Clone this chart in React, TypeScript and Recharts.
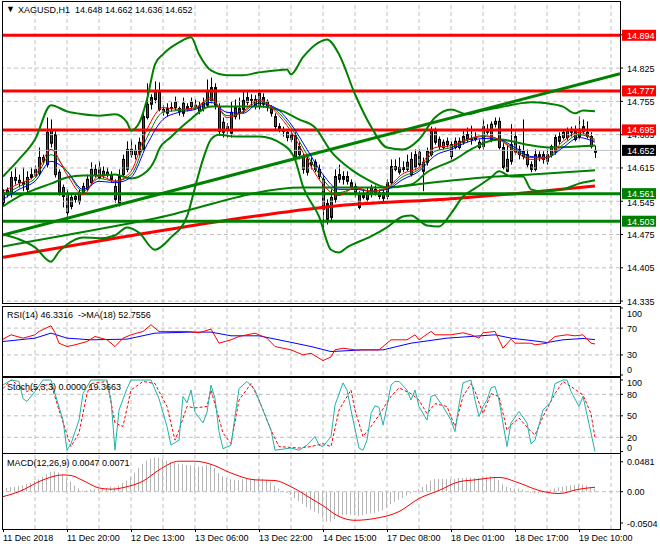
import React from 'react';
import { ComposedChart, Line, Bar, XAxis, YAxis, ReferenceLine } from 'recharts';

const FONT = '"Liberation Sans", Arial, sans-serif';

// ---------- time axis ----------
const xDomain: [number, number] = [0, 154.25];
const gridIdx = [8, 16, 24, 32, 40, 48, 56, 64, 72, 80, 88, 96, 104, 112, 120, 128, 136, 144, 152];
const xTickIdx = [0, 16, 32, 48, 64, 80, 96, 112, 128, 144];
const xTickLabels = ['11 Dec 2018', '11 Dec 20:00', '12 Dec 13:00', '13 Dec 06:00', '13 Dec 22:00', '14 Dec 15:00', '17 Dec 08:00', '18 Dec 01:00', '18 Dec 17:00', '19 Dec 10:00'];

// ---------- price candles ----------
const opens = [14.542,14.559,14.559,14.595,14.589,14.584,14.570,14.595,14.599,14.603,14.637,14.622,14.667,14.685,14.606,14.574,14.521,14.553,14.549,14.544,14.563,14.570,14.584,14.612,14.595,14.608,14.601,14.601,14.576,14.542,14.601,14.612,14.654,14.643,14.648,14.654,14.721,14.749,14.759,14.774,14.738,14.730,14.740,14.753,14.740,14.730,14.744,14.744,14.747,14.734,14.740,14.747,14.757,14.784,14.744,14.690,14.702,14.688,14.723,14.730,14.738,14.753,14.759,14.759,14.744,14.763,14.755,14.740,14.723,14.702,14.696,14.690,14.675,14.683,14.660,14.637,14.633,14.622,14.627,14.612,14.591,14.540,14.511,14.549,14.591,14.591,14.597,14.584,14.576,14.532,14.559,14.549,14.559,14.570,14.563,14.563,14.555,14.584,14.618,14.606,14.616,14.612,14.601,14.616,14.648,14.608,14.627,14.643,14.692,14.675,14.669,14.671,14.639,14.658,14.658,14.669,14.675,14.675,14.675,14.669,14.660,14.690,14.675,14.707,14.713,14.658,14.608,14.629,14.681,14.654,14.639,14.643,14.622,14.612,14.643,14.643,14.629,14.643,14.650,14.671,14.679,14.679,14.696,14.675,14.681,14.702,14.690,14.681,14.648];
const highs = [14.570,14.574,14.608,14.616,14.601,14.616,14.608,14.616,14.620,14.658,14.643,14.721,14.717,14.692,14.612,14.580,14.570,14.559,14.559,14.570,14.584,14.601,14.627,14.622,14.629,14.618,14.616,14.608,14.591,14.612,14.643,14.671,14.675,14.664,14.679,14.732,14.793,14.770,14.797,14.795,14.747,14.751,14.753,14.765,14.744,14.763,14.751,14.763,14.759,14.755,14.763,14.801,14.805,14.793,14.751,14.721,14.709,14.755,14.759,14.763,14.776,14.776,14.770,14.768,14.780,14.772,14.759,14.747,14.730,14.709,14.702,14.696,14.694,14.690,14.669,14.645,14.639,14.637,14.633,14.622,14.601,14.549,14.570,14.612,14.622,14.608,14.608,14.591,14.584,14.566,14.570,14.574,14.580,14.578,14.570,14.570,14.591,14.633,14.633,14.637,14.629,14.643,14.648,14.654,14.654,14.637,14.658,14.702,14.700,14.681,14.675,14.679,14.671,14.679,14.679,14.696,14.700,14.704,14.690,14.675,14.717,14.707,14.713,14.721,14.721,14.667,14.664,14.707,14.692,14.662,14.717,14.654,14.629,14.654,14.650,14.650,14.654,14.664,14.685,14.690,14.696,14.700,14.702,14.704,14.723,14.717,14.713,14.690,14.662];
const lows = [14.536,14.553,14.553,14.580,14.574,14.566,14.561,14.591,14.595,14.599,14.622,14.616,14.658,14.595,14.557,14.532,14.502,14.528,14.542,14.538,14.559,14.566,14.578,14.595,14.591,14.593,14.595,14.584,14.542,14.534,14.597,14.606,14.637,14.633,14.641,14.650,14.717,14.738,14.751,14.734,14.725,14.723,14.734,14.736,14.725,14.723,14.734,14.738,14.738,14.728,14.734,14.742,14.751,14.738,14.683,14.679,14.679,14.679,14.717,14.717,14.730,14.747,14.742,14.738,14.738,14.742,14.734,14.723,14.696,14.690,14.681,14.671,14.669,14.633,14.633,14.603,14.599,14.612,14.606,14.591,14.490,14.496,14.502,14.542,14.584,14.580,14.580,14.570,14.553,14.528,14.549,14.542,14.553,14.557,14.549,14.542,14.549,14.580,14.608,14.601,14.606,14.608,14.597,14.610,14.616,14.566,14.620,14.639,14.664,14.654,14.654,14.658,14.633,14.654,14.654,14.664,14.669,14.664,14.671,14.654,14.654,14.685,14.669,14.700,14.654,14.612,14.606,14.622,14.643,14.633,14.633,14.616,14.606,14.608,14.629,14.624,14.622,14.637,14.643,14.664,14.675,14.673,14.681,14.671,14.675,14.685,14.677,14.656,14.636];
const closes = [14.563,14.568,14.595,14.589,14.584,14.580,14.595,14.601,14.612,14.637,14.631,14.690,14.696,14.601,14.563,14.555,14.561,14.534,14.555,14.563,14.576,14.591,14.612,14.601,14.616,14.599,14.606,14.591,14.549,14.597,14.633,14.654,14.643,14.652,14.669,14.723,14.749,14.763,14.776,14.738,14.734,14.740,14.742,14.742,14.734,14.751,14.740,14.753,14.744,14.744,14.753,14.778,14.784,14.747,14.692,14.711,14.694,14.732,14.742,14.740,14.757,14.763,14.758,14.744,14.772,14.749,14.744,14.730,14.702,14.696,14.692,14.679,14.685,14.639,14.643,14.612,14.606,14.627,14.612,14.597,14.528,14.507,14.553,14.597,14.601,14.597,14.587,14.574,14.559,14.559,14.553,14.563,14.574,14.563,14.555,14.551,14.584,14.618,14.612,14.616,14.612,14.627,14.633,14.643,14.622,14.627,14.650,14.692,14.669,14.660,14.658,14.664,14.664,14.671,14.671,14.681,14.685,14.677,14.679,14.658,14.702,14.696,14.707,14.713,14.658,14.616,14.633,14.664,14.648,14.643,14.650,14.622,14.612,14.643,14.637,14.633,14.643,14.660,14.679,14.681,14.690,14.692,14.690,14.692,14.696,14.692,14.681,14.660,14.652];

// ---------- main-pane indicators (bar index, price) ----------
const upperBand: [number, number][] = [[0,14.597],[4,14.633],[8,14.675],[12,14.747],[16,14.734],[20,14.728],[24,14.725],[28,14.728],[31,14.711],[32,14.694],[34,14.709],[36,14.759],[38,14.833],[40,14.854],[44,14.879],[47,14.890],[49,14.854],[52,14.820],[56,14.810],[60,14.810],[64,14.816],[68,14.820],[71,14.822],[72,14.812],[75,14.848],[79,14.879],[81,14.885],[84,14.854],[88,14.770],[92,14.702],[96,14.658],[100,14.654],[104,14.675],[108,14.721],[112,14.738],[116,14.728],[120,14.736],[124,14.742],[128,14.749],[132,14.753],[136,14.751],[140,14.744],[143,14.730],[145,14.736],[148,14.734]];
const midBand: [number, number][] = [[0,14.534],[4,14.555],[8,14.570],[12,14.582],[16,14.595],[20,14.599],[24,14.599],[28,14.601],[32,14.593],[36,14.608],[38,14.633],[39,14.654],[42,14.680],[46,14.711],[52,14.744],[57,14.744],[64,14.744],[70,14.734],[74,14.717],[78,14.700],[82,14.650],[87,14.612],[91,14.591],[96,14.574],[102,14.580],[106,14.606],[113,14.633],[117,14.654],[124,14.675],[131,14.664],[137,14.658],[148,14.662]];
const lowerBand: [number, number][] = [[0,14.475],[4,14.465],[8,14.448],[12,14.418],[14,14.439],[16,14.454],[20,14.469],[24,14.467],[28,14.473],[31,14.490],[34,14.479],[38,14.443],[42,14.469],[46,14.513],[48,14.574],[50,14.633],[52,14.675],[54,14.685],[58,14.681],[64,14.681],[70,14.664],[73,14.633],[75,14.576],[79,14.513],[82,14.443],[84,14.437],[86,14.448],[92,14.471],[96,14.490],[100,14.513],[102,14.515],[106,14.494],[109,14.492],[112,14.519],[115,14.555],[118,14.572],[122,14.595],[124,14.608],[127,14.597],[130,14.597],[132,14.570],[135,14.566],[140,14.570],[144,14.582],[148,14.589]];
const slowMA: [number, number][] = [[0,14.450],[37,14.507],[75,14.574],[95,14.574],[107,14.584],[123,14.597],[132,14.601],[148,14.610]];
const longRedMA: [number, number][] = [[0,14.427],[28,14.467],[56,14.505],[82,14.534],[113,14.551],[128,14.561],[148,14.577]];
const trendLine: [number, number][] = [[0,14.474],[154.25,14.813]];
const maIdx = [0,4,8,12,16,20,24,28,32,36,40,44,48,52,56,60,64,68,72,76,80,84,88,92,96,100,104,108,112,116,120,124,128,132,136,140,144,148];
const fastRed = [14.566,14.582,14.599,14.654,14.601,14.559,14.599,14.587,14.608,14.696,14.742,14.738,14.742,14.763,14.721,14.734,14.759,14.734,14.692,14.633,14.580,14.557,14.574,14.566,14.574,14.603,14.616,14.658,14.662,14.675,14.683,14.675,14.650,14.633,14.637,14.671,14.690,14.671];
const slowBlue = [14.549,14.570,14.587,14.629,14.608,14.570,14.587,14.584,14.595,14.664,14.717,14.732,14.738,14.753,14.732,14.730,14.751,14.742,14.707,14.654,14.601,14.570,14.570,14.566,14.570,14.591,14.608,14.641,14.654,14.669,14.677,14.675,14.658,14.639,14.637,14.658,14.679,14.669];
const midGreen = [14.557,14.576,14.593,14.643,14.608,14.566,14.593,14.587,14.601,14.679,14.732,14.736,14.740,14.759,14.725,14.732,14.755,14.738,14.700,14.643,14.591,14.563,14.572,14.566,14.572,14.597,14.612,14.650,14.658,14.673,14.681,14.675,14.654,14.637,14.637,14.664,14.685,14.675];

const priceDomain: [number, number] = [14.331, 14.964];
const priceGrid = [14.335, 14.405, 14.475, 14.545, 14.615, 14.685, 14.755, 14.825, 14.895];
const redLevels = [14.894, 14.777, 14.695];
const greenLevels = [14.561, 14.503];
const bidPrice = 14.652;

// ---------- RSI ----------
const rsi: [number, number][] = [[0,53.5],[2,60],[5,55],[8,60],[9,65],[12,73.5],[13,63],[14,47.5],[16,42.5],[18,45],[21,50],[23,57.5],[26,52.5],[28,42.5],[30,55],[32,60],[35,65],[37,75],[39,65],[42,65],[46,65],[49,63],[52,68.5],[54,47.5],[57,52.5],[59,57.5],[63,62.5],[66,55],[68,42.5],[72,37.5],[75,30],[77,32.5],[80,21.5],[82,27],[83,37.5],[85,40],[88,37.5],[92,37.5],[94,37.5],[97,52.5],[101,52.5],[103,60],[104,52.5],[107,65],[108,60],[112,60],[115,63],[117,60],[119,55],[120,63],[123,65],[125,40],[127,53.5],[128,47.5],[132,47.5],[133,45],[136,47.5],[138,57.5],[141,60],[143,58.5],[145,60],[147,47.5],[148,46.3]];
const rsiMA: [number, number][] = [[0,50],[8,55],[12,62.5],[16,55],[22,52.5],[31,53.5],[38,62.5],[47,64],[52,64],[57,58.5],[64,58.5],[71,50],[77,42.5],[82,35],[90,37.5],[95,37.5],[102,47.5],[111,55],[117,57.5],[123,60],[127,55],[132,51.5],[136,48.5],[140,52.5],[145,54.5],[148,52.8]];
const rsiTicks = [100, 70, 30, 0];
const rsiLevels = [70, 30];

// ---------- Stochastic ----------
const stochMain: [number, number][] = [[0,93],[2,100],[4,98],[5,74],[6,70],[8,84],[10,100],[12,100],[13,81],[15,44],[16,2],[17,11],[19,44],[20,81],[22,100],[26,100],[27,72],[28,2],[29,58],[31,88],[32,100],[37,100],[39,74],[41,35],[42,9],[44,16],[45,77],[46,68],[47,86],[48,55],[50,40],[51,55],[52,93],[53,74],[54,28],[55,4],[57,9],[58,49],[59,88],[61,98],[63,86],[65,58],[67,30],[68,2],[72,5],[74,2],[76,9],[78,21],[79,9],[80,7],[82,21],[83,65],[85,96],[86,86],[87,58],[89,5],[90,2],[91,16],[92,53],[93,64],[94,62],[95,37],[96,63],[97,93],[98,98],[99,98],[101,86],[102,72],[103,86],[104,63],[106,44],[107,77],[108,79],[110,63],[112,44],[113,28],[114,65],[115,96],[117,100],[118,72],[119,49],[120,63],[121,72],[122,89],[123,91],[124,72],[126,7],[127,40],[129,56],[131,40],[132,11],[133,16],[135,58],[137,70],[138,95],[140,100],[141,100],[142,84],[144,63],[145,77],[147,26],[148,0]];
const stochSignal: [number, number][] = [[0,88],[2,100],[6,84],[8,88],[12,95],[14,58],[17,7],[19,26],[21,81],[22,95],[26,98],[28,40],[30,35],[32,86],[35,98],[38,95],[41,63],[43,16],[44,30],[46,63],[48,61],[51,63],[52,86],[55,26],[57,11],[59,72],[62,95],[64,72],[67,30],[69,7],[74,5],[77,7],[80,11],[82,7],[84,58],[87,86],[88,58],[90,21],[92,35],[94,51],[97,77],[99,89],[102,81],[104,72],[106,53],[108,67],[111,63],[113,35],[115,77],[117,95],[118,84],[120,53],[122,81],[124,77],[126,30],[127,37],[129,47],[132,28],[133,23],[135,49],[138,81],[140,98],[142,91],[145,79],[147,53],[148,19.4]];
const stochTicks = [100, 80, 50, 20, 0];
const stochLevels = [80, 50, 20];

// ---------- MACD ----------
const macdHist = [0.004,0.006,0.007,0.008,0.009,0.010,0.012,0.014,0.017,0.020,0.024,0.028,0.032,0.033,0.031,0.027,0.022,0.016,0.010,0.005,0.002,0.002,0.003,0.004,0.005,0.006,0.006,0.008,0.007,0.010,0.014,0.018,0.024,0.031,0.038,0.045,0.050,0.053,0.055,0.054,0.052,0.050,0.048,0.046,0.045,0.044,0.043,0.042,0.041,0.040,0.041,0.043,0.044,0.038,0.030,0.025,0.022,0.020,0.019,0.019,0.020,0.021,0.021,0.021,0.022,0.021,0.019,0.015,0.010,0.005,0.001,-0.002,-0.005,-0.010,-0.015,-0.020,-0.025,-0.029,-0.032,-0.035,-0.042,-0.048,-0.048,-0.044,-0.040,-0.038,-0.037,-0.037,-0.038,-0.039,-0.038,-0.036,-0.035,-0.034,-0.032,-0.030,-0.026,-0.020,-0.016,-0.013,-0.010,-0.006,-0.003,0.000,0.004,0.008,0.012,0.018,0.020,0.021,0.021,0.020,0.020,0.021,0.022,0.022,0.023,0.023,0.022,0.022,0.024,0.024,0.025,0.024,0.019,0.012,0.008,0.006,0.005,0.005,0.003,0.000,-0.002,-0.003,-0.002,-0.002,0.000,0.003,0.005,0.007,0.008,0.009,0.010,0.011,0.012,0.012,0.010,0.008,0.005];
const macdSignal: [number, number][] = [[0,-0.008],[4,0.000],[10,0.019],[15,0.027],[17,0.026],[20,0.018],[24,0.006],[27,0.004],[31,0.008],[35,0.017],[39,0.035],[44,0.049],[48,0.049],[52,0.044],[57,0.030],[63,0.019],[68,0.018],[72,0.008],[77,-0.011],[81,-0.027],[82,-0.032],[88,-0.046],[93,-0.043],[99,-0.032],[104,-0.011],[109,0.002],[114,0.016],[118,0.019],[124,0.023],[129,0.014],[134,0.002],[139,-0.003],[144,0.004],[148,0.0071]];
const macdDomain: [number, number] = [-0.06, 0.0606];
const macdTicks = [0.0481, 0, -0.0504];
const macdTickText = ['0.0481', '0.00', '-0.0504'];

// ---------- helpers ----------
const pts = (a: [number, number][]) => a.map(([i, v]) => ({ i, v }));
const idxPts = (idx: number[], vals: number[]) => idx.map((i, k) => ({ i, v: vals[k] }));
const candleData = opens.map((o, i) => ({ i, o, h: highs[i], l: lows[i], c: closes[i], range: [lows[i], highs[i]] }));
const histData = macdHist.map((v, i) => ({ i, v }));

const GRID = '#c0c0c0';

function Candle(props: any) {
  const { x, y, width, height, payload } = props;
  if (!payload || height == null) return null;
  const { o, h, l, c } = payload;
  const cx = Math.round(x + width / 2) + 0.5;
  const k = h - l > 0 ? height / (h - l) : 0;
  const top = y + (h - Math.max(o, c)) * k;
  const bot = y + (h - Math.min(o, c)) * k;
  const bull = c >= o;
  return (
    <g>
      <line x1={cx} x2={cx} y1={y} y2={y + height} stroke="#000" strokeWidth={1} />
      <rect x={cx - 1} y={top} width={2} height={Math.max(bot - top, 0.8)} fill={bull ? '#008000' : '#ff0000'} stroke="#000" strokeWidth={1} />
    </g>
  );
}

// a grid label sitting right under a level box is nudged down slightly, as in the terminal
const nudgedGrid = [14.545];

function MainTick(props: any) {
  const { x, y, payload } = props;
  const v = payload.value as number;
  const txt = v.toFixed(3);
  let bg: string | null = null;
  if (redLevels.includes(v)) bg = '#ff0000';
  else if (greenLevels.includes(v)) bg = '#008000';
  else if (v === bidPrice) bg = '#000000';
  if (bg) {
    return (
      <g>
        <rect x={x - 5} y={y - 5.5} width={34} height={11} fill={bg} />
        <text x={x} y={y} dy={3.5} fill="#fff" fontSize={9} fontFamily={FONT}>{txt}</text>
      </g>
    );
  }
  const dy = nudgedGrid.includes(v) ? 5 : 3.5;
  return (
    <g>
      <line x1={x - 7} x2={x - 4} y1={y} y2={y} stroke="#000" />
      <text x={x} y={y} dy={dy} fill="#000" fontSize={9} fontFamily={FONT}>{txt}</text>
    </g>
  );
}

function makeSubTick(fmt: (v: number) => string, shiftTop: number, shiftBottom: number, topVal: number, botVal: number) {
  return function SubTick(props: any) {
    const { x, y, payload } = props;
    const v = payload.value as number;
    let dy = 3.5;
    if (v === topVal) dy += shiftTop;
    if (v === botVal) dy += shiftBottom;
    return (
      <g>
        <line x1={x - 7} x2={x - 4} y1={y} y2={y} stroke="#000" />
        <text x={x} y={y} dy={dy} fill="#000" fontSize={9} fontFamily={FONT}>{fmt(v)}</text>
      </g>
    );
  };
}

function TimeTick(props: any) {
  const { x, y, payload, index } = props;
  const k = xTickIdx.indexOf(payload.value);
  return (
    <g>
      <line x1={x + 0.5} x2={x + 0.5} y1={y - 5} y2={y - 2} stroke="#000" />
      <text x={x} y={y} dy={7} fill="#000" fontSize={9} fontFamily={FONT} textAnchor="start">{xTickLabels[k >= 0 ? k : index]}</text>
    </g>
  );
}

const vGrid = gridIdx.map((g) => (
  <ReferenceLine key={'vg' + g} x={g} stroke={GRID} strokeDasharray="4 3" />
));

function MainChart() {
  return (
    <ComposedChart width={660} height={312} data={candleData} margin={{ top: 2, right: 0, bottom: 9, left: 3 }}>
      <XAxis dataKey="i" type="number" domain={xDomain} hide allowDataOverflow />
      <YAxis orientation="right" type="number" domain={priceDomain} allowDataOverflow width={40}
        ticks={[...priceGrid, bidPrice, ...greenLevels, ...redLevels]} interval={0}
        tick={(p: any) => <MainTick {...p} />} tickLine={false} axisLine={false} tickSize={3} tickMargin={4} />
      {vGrid}
      {priceGrid.map((g) => <ReferenceLine key={'hg' + g} y={g} stroke={GRID} strokeDasharray="4 3" />)}
      <ReferenceLine y={bidPrice} stroke="#c0c0c0" strokeWidth={1} />
      <Line data={pts(longRedMA)} dataKey="v" stroke="#ff0000" strokeWidth={3} dot={false} activeDot={false} isAnimationActive={false} type="monotone" />
      <Line data={pts(slowMA)} dataKey="v" stroke="#008000" strokeWidth={2} dot={false} activeDot={false} isAnimationActive={false} type="monotone" />
      {greenLevels.map((g) => <ReferenceLine key={'gl' + g} y={g} stroke="#008000" strokeWidth={3} />)}
      {redLevels.map((g) => <ReferenceLine key={'rl' + g} y={g} stroke="#ff0000" strokeWidth={3} />)}
      <Line data={pts(trendLine)} dataKey="v" stroke="#008000" strokeWidth={3} dot={false} activeDot={false} isAnimationActive={false} type="linear" />
      <Line data={pts(upperBand)} dataKey="v" stroke="#008000" strokeWidth={2} dot={false} activeDot={false} isAnimationActive={false} type="monotone" />
      <Line data={pts(lowerBand)} dataKey="v" stroke="#008000" strokeWidth={2} dot={false} activeDot={false} isAnimationActive={false} type="monotone" />
      <Line data={pts(midBand)} dataKey="v" stroke="#008000" strokeWidth={2} dot={false} activeDot={false} isAnimationActive={false} type="monotone" />
      <Bar dataKey="range" barSize={3} shape={(p: any) => <Candle {...p} />} isAnimationActive={false} />
      <Line data={idxPts(maIdx, slowBlue)} dataKey="v" stroke="#0000ff" strokeWidth={1} dot={false} activeDot={false} isAnimationActive={false} type="monotone" />
      <Line data={idxPts(maIdx, midGreen)} dataKey="v" stroke="#008000" strokeWidth={1} dot={false} activeDot={false} isAnimationActive={false} type="monotone" />
      <Line data={idxPts(maIdx, fastRed)} dataKey="v" stroke="#ff0000" strokeWidth={1} dot={false} activeDot={false} isAnimationActive={false} type="monotone" />
    </ComposedChart>
  );
}

const RsiTick = makeSubTick((v) => String(v), 5, -6, 100, 0);
const StochTick = makeSubTick((v) => String(v), 2, -4, 100, 0);
const MacdTick = makeSubTick((v) => macdTickText[macdTicks.indexOf(v)], 0, 0, 999, -999);

function RsiChart() {
  return (
    <ComposedChart width={660} height={73} data={[]} margin={{ top: 3, right: 0, bottom: 3, left: 3 }}>
      <XAxis dataKey="i" type="number" domain={xDomain} hide allowDataOverflow />
      <YAxis orientation="right" type="number" domain={[0, 100]} allowDataOverflow width={40} ticks={rsiTicks} interval={0}
        tick={(p: any) => <RsiTick {...p} />} tickLine={false} axisLine={false} tickSize={3} tickMargin={4} />
      {vGrid}
      {rsiLevels.map((g) => <ReferenceLine key={'rl' + g} y={g} stroke={GRID} strokeDasharray="4 3" />)}
      <Line data={pts(rsiMA)} dataKey="v" stroke="#0000ff" strokeWidth={1} dot={false} activeDot={false} isAnimationActive={false} type="linear" />
      <Line data={pts(rsi)} dataKey="v" stroke="#ff0000" strokeWidth={1} dot={false} activeDot={false} isAnimationActive={false} type="linear" />
    </ComposedChart>
  );
}

function StochChart() {
  return (
    <ComposedChart width={660} height={79} data={[]} margin={{ top: 2, right: 0, bottom: 2, left: 3 }}>
      <XAxis dataKey="i" type="number" domain={xDomain} hide allowDataOverflow />
      <YAxis orientation="right" type="number" domain={[-1.95, 102.8]} allowDataOverflow width={40} ticks={stochTicks} interval={0}
        tick={(p: any) => <StochTick {...p} />} tickLine={false} axisLine={false} tickSize={3} tickMargin={4} />
      {vGrid}
      {stochLevels.map((g) => <ReferenceLine key={'sl' + g} y={g} stroke={GRID} strokeDasharray="4 3" />)}
      <Line data={pts(stochSignal)} dataKey="v" stroke="#ff0000" strokeWidth={1} strokeDasharray="3 2" dot={false} activeDot={false} isAnimationActive={false} type="linear" />
      <Line data={pts(stochMain)} dataKey="v" stroke="#20b2aa" strokeWidth={1} dot={false} activeDot={false} isAnimationActive={false} type="linear" />
    </ComposedChart>
  );
}

function MacdChart() {
  return (
    <ComposedChart width={660} height={97} data={histData} margin={{ top: 1, right: 0, bottom: 0, left: 3 }}>
      <XAxis dataKey="i" type="number" domain={xDomain} allowDataOverflow ticks={xTickIdx} interval={0} height={21}
        tick={(p: any) => <TimeTick {...p} />} tickLine={false} axisLine={false} tickSize={3} tickMargin={2} />
      <YAxis orientation="right" type="number" domain={macdDomain} allowDataOverflow width={40} ticks={macdTicks} interval={0}
        tick={(p: any) => <MacdTick {...p} />} tickLine={false} axisLine={false} tickSize={3} tickMargin={4} />
      {vGrid}
      <ReferenceLine y={0} stroke={GRID} strokeDasharray="4 3" />
      <Bar dataKey="v" barSize={1} fill="#b4b4b4" isAnimationActive={false} />
      <Line data={pts(macdSignal)} dataKey="v" stroke="#ff0000" strokeWidth={1} dot={false} activeDot={false} isAnimationActive={false} type="monotone" />
    </ComposedChart>
  );
}

const frameStyle = (top: number, bottom: number): React.CSSProperties => ({
  position: 'absolute', left: 2, top, width: 617, height: bottom - top - 1, border: '1px solid #000', pointerEvents: 'none',
});
const titleStyle = (left: number, top: number): React.CSSProperties => ({
  position: 'absolute', left, top, fontSize: 9, lineHeight: '11px', fontFamily: FONT, color: '#000', whiteSpace: 'pre',
});

export default function App() {
  return (
    <div style={{ position: 'absolute', left: 0, top: 0, width: 660, height: 550, background: '#fff', overflow: 'hidden' }}>
      <div style={{ position: 'absolute', left: 0, top: 0 }}><MainChart /></div>
      <div style={{ position: 'absolute', left: 0, top: 305 }}><RsiChart /></div>
      <div style={{ position: 'absolute', left: 0, top: 376 }}><StochChart /></div>
      <div style={{ position: 'absolute', left: 0, top: 453 }}><MacdChart /></div>
      <div style={frameStyle(1, 303)} />
      <div style={frameStyle(306, 376)} />
      <div style={frameStyle(377, 453)} />
      <div style={frameStyle(453, 529)} />
      <div style={titleStyle(6, 4)}>{'\u25BC'}</div>
      <div style={titleStyle(18, 5)}>XAGUSD,H1  14.648 14.662 14.636 14.652</div>
      <div style={titleStyle(7, 310)}>RSI(14) 46.3316  -&gt;MA(18) 52.7556</div>
      <div style={titleStyle(7, 382)}>Stoch(5,3,3) 0.0000 19.3663</div>
      <div style={titleStyle(7, 458)}>MACD(12,26,9) 0.0047 0.0071</div>
    </div>
  );
}
